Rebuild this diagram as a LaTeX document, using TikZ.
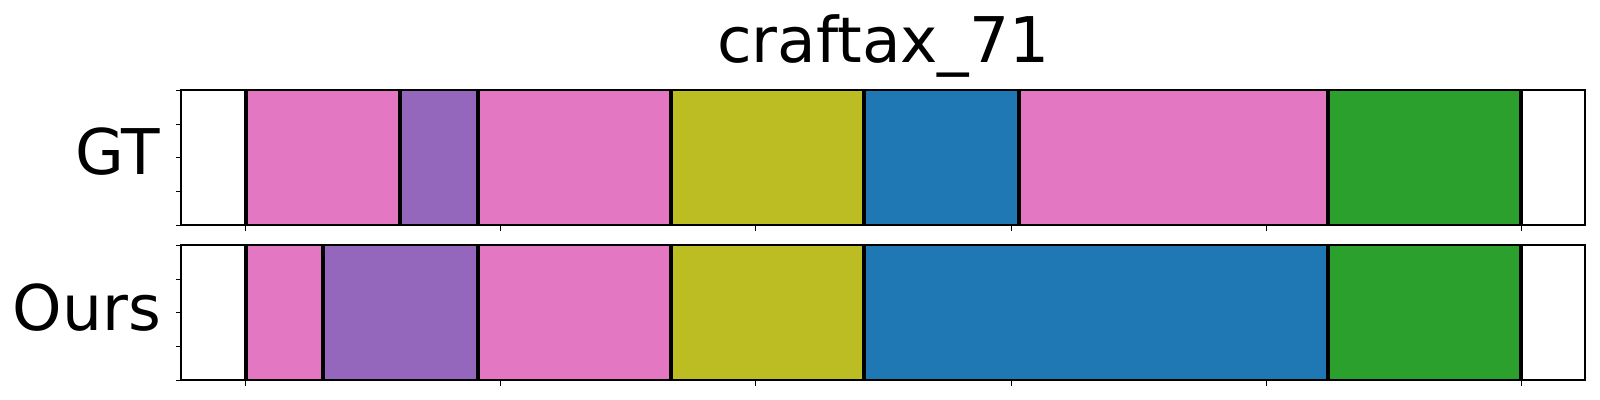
\documentclass[tikz,border=0pt]{standalone}
\usepackage{fontspec}
\setmainfont{DejaVu Sans}
\definecolor{tpink}{HTML}{E377C2}
\definecolor{tpurple}{HTML}{9467BD}
\definecolor{tolive}{HTML}{BCBD22}
\definecolor{tblue}{HTML}{1F77B4}
\definecolor{tgreen}{HTML}{2CA02C}
\begin{document}
\begin{tikzpicture}[x=0.5pt,y=-0.5pt,
  lbl/.style={inner sep=0pt, font=\fontsize{31.5}{36}\selectfont},
  sep/.style={line width=2pt, black},
  frame/.style={line width=0.9pt, black},
  tickmark/.style={line width=0.5pt, black}]
\useasboundingbox[fill=white] (0,0) rectangle (1600,400);
% boundaries (px): 0:245.7 2:323.01 4:400.32 6:477.63 11:670.91 16:864.18 20:1018.80 28:1328.04 33:1521.3
% ---------- GT panel (y 90.3 .. 225.3)
\fill[tpink]   (245.7,90.3)  rectangle (400.32,225.3);
\fill[tpurple] (400.32,90.3) rectangle (477.63,225.3);
\fill[tpink]   (477.63,90.3) rectangle (670.91,225.3);
\fill[tolive]  (670.91,90.3) rectangle (864.18,225.3);
\fill[tblue]   (864.18,90.3) rectangle (1018.80,225.3);
\fill[tpink]   (1018.80,90.3) rectangle (1328.04,225.3);
\fill[tgreen]  (1328.04,90.3) rectangle (1521.3,225.3);
\foreach \b in {245.7,400.32,477.63,670.91,864.18,1018.80,1328.04,1521.3}
  \draw[sep] (\b,90.3) -- (\b,225.3);
% ---------- Ours panel (y 245.3 .. 380.3)
\fill[tpink]   (245.7,245.3)  rectangle (323.01,380.3);
\fill[tpurple] (323.01,245.3) rectangle (477.63,380.3);
\fill[tpink]   (477.63,245.3) rectangle (670.91,380.3);
\fill[tolive]  (670.91,245.3) rectangle (864.18,380.3);
\fill[tblue]   (864.18,245.3) rectangle (1328.04,380.3);
\fill[tgreen]  (1328.04,245.3) rectangle (1521.3,380.3);
\foreach \b in {245.7,323.01,477.63,670.91,864.18,1328.04,1521.3}
  \draw[sep] (\b,245.3) -- (\b,380.3);
% ---------- frames and ticks
\foreach \top/\bot in {90.3/225.3,245.3/380.3}{
  \draw[frame] (181.3,\top) rectangle (1585.3,\bot);
  \foreach \i in {0,...,5}
    \draw[tickmark] ({245.7+255.12*\i},\bot) -- ++(0,5.5);
  \foreach \j in {0,...,4}
    \draw[tickmark] (181.3,{\top+33.75*\j}) -- ++(-5.5,0);
}
% ---------- texts
\node[lbl, anchor=base] (title) at (883.3,62.3) {craftax\_71};
\node[lbl, anchor=base east] (gt) at (160.5,175) {GT};
\node[lbl, anchor=base east] (ours) at (161.5,330.7) {Ours};
\end{tikzpicture}
\end{document}
